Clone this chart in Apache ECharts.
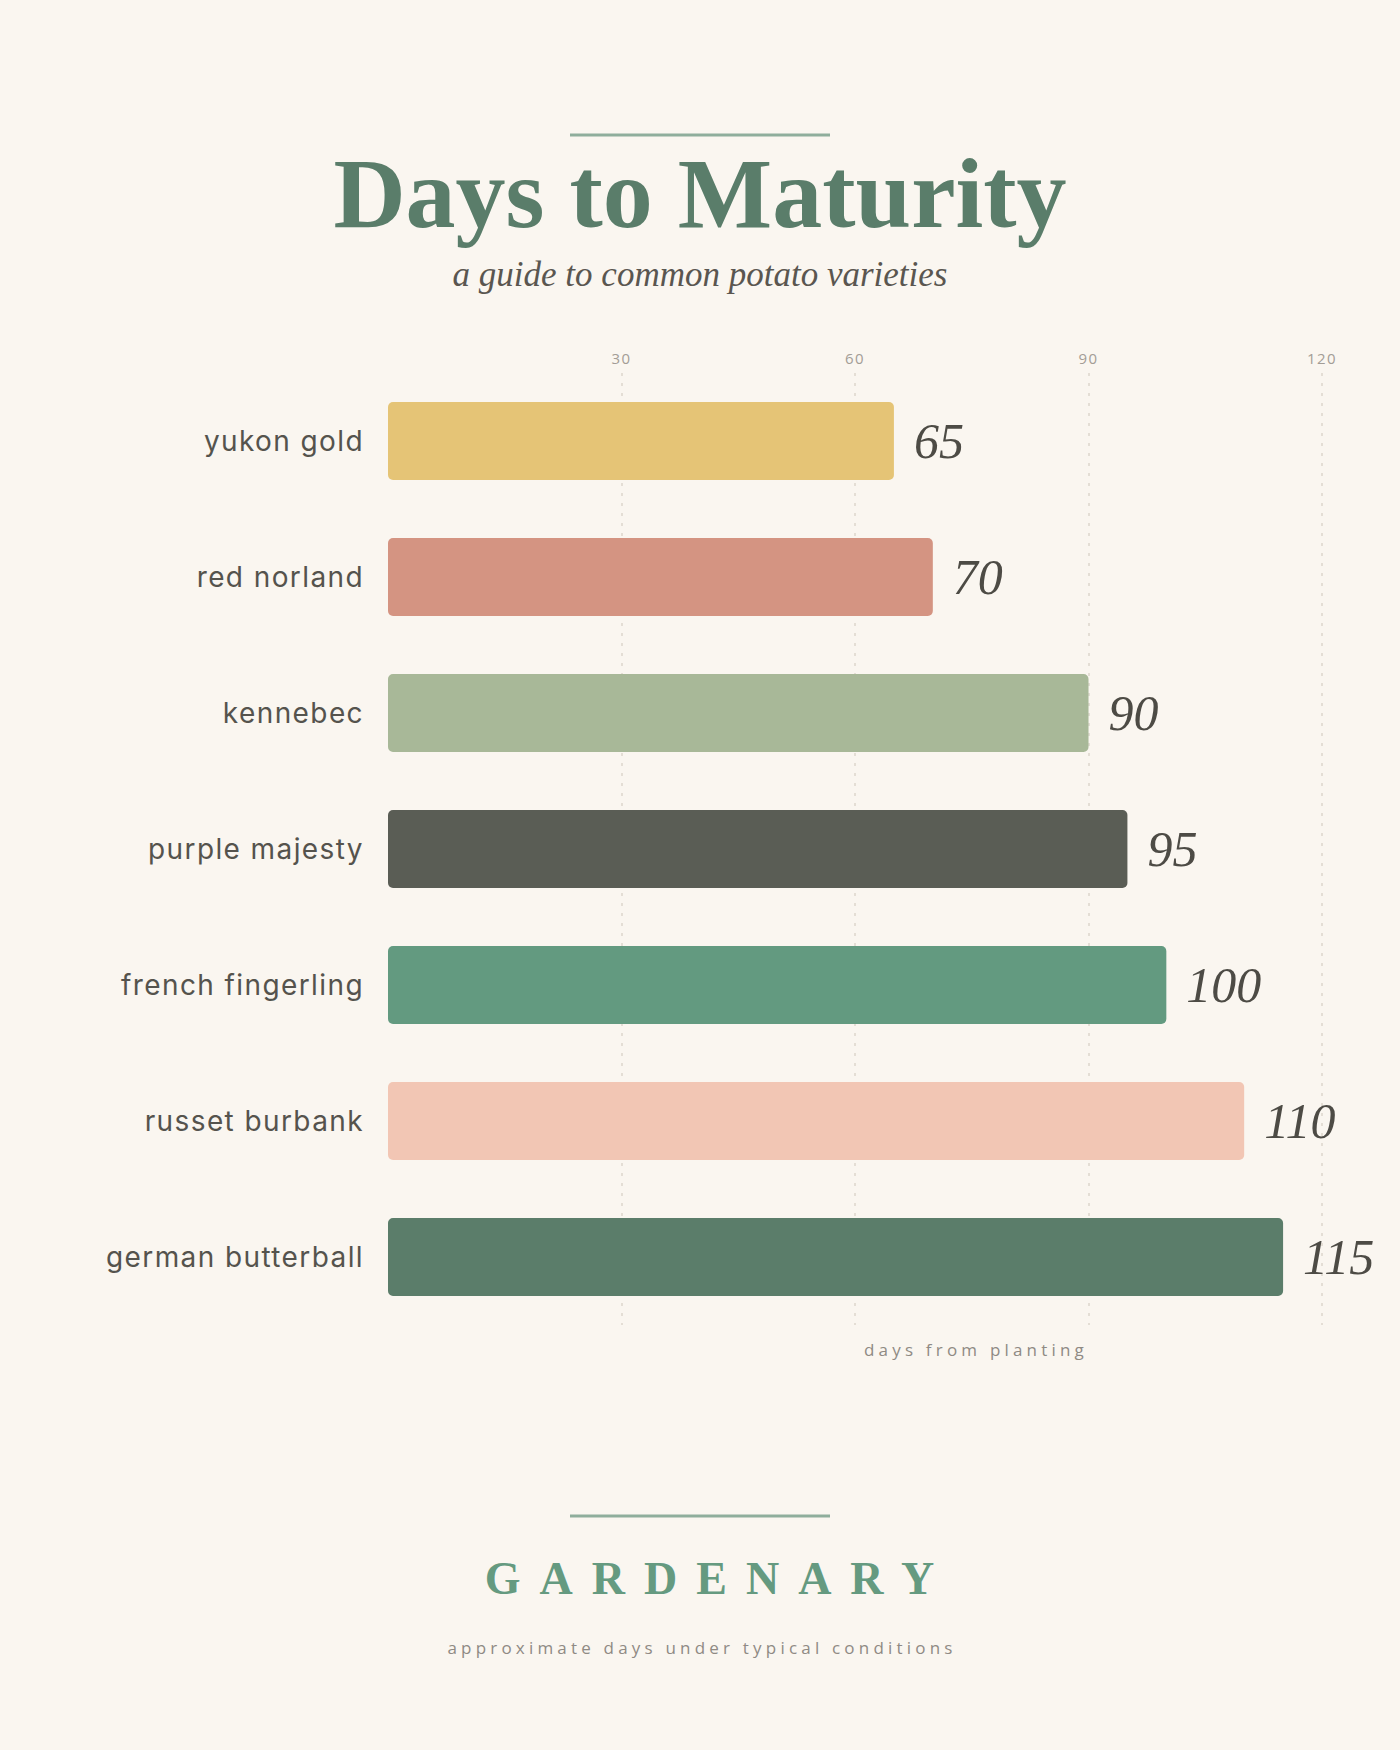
<!doctype html>
<html>
<head>
<meta charset="utf-8">
<script src="https://cdn.jsdelivr.net/npm/echarts@6/dist/echarts.min.js"></script>
<style>
	html, body { margin: 0; padding: 0; background: #faf6f0; }
	#chart { width: 1400px; height: 1750px; }
	/* letter spacing for the spaced captions (svg renderer) */
	#chart text[style*="15px"] { letter-spacing: 1.5px; }
	#chart text[style*="17px"] { letter-spacing: 4.2px; }
	#chart text[style*="28px"] { letter-spacing: 1.4px; }
	#chart text[style*="46px"] { letter-spacing: 19px; }
</style>
</head>
<body>
<div id="chart"></div>
<script>
	// potato varieties, top to bottom
	var varieties = ['yukon gold', 'red norland', 'kennebec', 'purple majesty', 'french fingerling', 'russet burbank', 'german butterball'];
	// days to maturity
	var days = [65, 70, 90, 95, 100, 110, 115];
	var barColors = ['#e5c476', '#d49482', '#a8b898', '#5a5d55', '#639a80', '#f2c6b4', '#5b7d6a'];
	// x axis ticks
	var axisMax = 120;
	var tickStep = 30;

	var barData = [];
	for (var i = 0; i < days.length; i++) {
		barData.push({ value: days[i], itemStyle: { color: barColors[i] } });
	}

	var myChart = echarts.init(document.getElementById('chart'), null, { renderer: 'svg' });

	var option = {
		backgroundColor: '#faf6f0',
		animation: false,
		grid: {
			left: 388,
			top: 373,
			width: 934,
			height: 952
		},
		xAxis: {
			type: 'value',
			position: 'top',
			min: 0,
			max: axisMax,
			interval: tickStep,
			axisLine: { show: false },
			axisTick: { show: false },
			axisLabel: {
				showMinLabel: false,
				margin: 8,
				color: '#a39d96',
				fontSize: 15,
				fontFamily: 'Open Sans'
			},
			splitLine: {
				show: true,
				showMinLine: false,
				lineStyle: { color: '#ddd6cc', width: 1.5, type: [3, 7] }
			}
		},
		yAxis: {
			type: 'category',
			inverse: true,
			data: varieties,
			axisLine: { show: false },
			axisTick: { show: false },
			axisLabel: {
				margin: 24,
				color: '#55534d',
				fontSize: 28,
				fontFamily: 'Inter'
			}
		},
		series: [{
			type: 'bar',
			data: barData,
			barWidth: 78,
			itemStyle: { borderRadius: 5 },
			label: {
				show: true,
				position: 'right',
				distance: 20,
				formatter: '{c}',
				color: '#4d4b45',
				fontSize: 50,
				fontStyle: 'italic',
				fontFamily: 'Liberation Serif'
			}
		}],
		graphic: [
			{ type: 'line', shape: { x1: 570, y1: 135, x2: 830, y2: 135 }, style: { stroke: '#8fae9c', lineWidth: 3 } },
			{ type: 'text', x: 700, y: 193, style: { text: 'Days to Maturity', textAlign: 'center', textVerticalAlign: 'middle', fill: '#5a7d6a', fontSize: 100, fontWeight: 'bold', fontFamily: 'Liberation Serif' } },
			{ type: 'text', x: 700, y: 274, style: { text: 'a guide to common potato varieties', textAlign: 'center', textVerticalAlign: 'middle', fill: '#5a5650', fontSize: 35, fontStyle: 'italic', fontFamily: 'Liberation Serif' } },
			{ type: 'text', x: 976, y: 1349, style: { text: 'days from planting', textAlign: 'center', textVerticalAlign: 'middle', fill: '#8f8a84', fontSize: 17, fontFamily: 'Open Sans' } },
			{ type: 'line', shape: { x1: 570, y1: 1516, x2: 830, y2: 1516 }, style: { stroke: '#8fae9c', lineWidth: 3 } },
			{ type: 'text', x: 719, y: 1578, style: { text: 'GARDENARY', textAlign: 'center', textVerticalAlign: 'middle', fill: '#659a80', fontSize: 46, fontWeight: 'bold', fontFamily: 'Liberation Serif' } },
			{ type: 'text', x: 702, y: 1647, style: { text: 'approximate days under typical conditions', textAlign: 'center', textVerticalAlign: 'middle', fill: '#8f8a84', fontSize: 17, fontFamily: 'Open Sans' } }
		]
	};

	myChart.setOption(option);
</script>
</body>
</html>
